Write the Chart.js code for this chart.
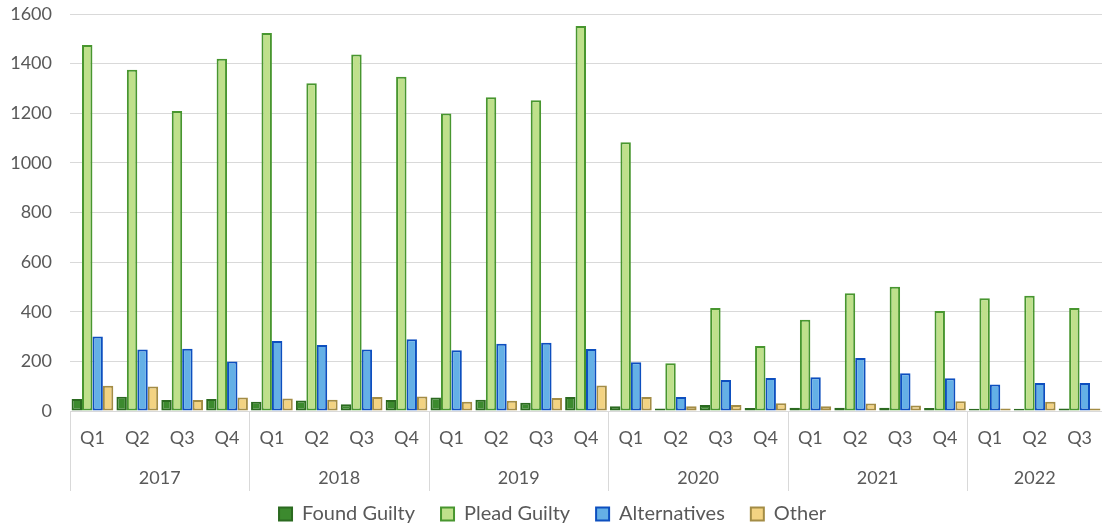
<!DOCTYPE html>
<html lang="en">
<head>
<meta charset="UTF-8">
<title>Court outcomes by quarter</title>
<script src="https://cdn.jsdelivr.net/npm/chart.js"></script>
<style>
    html, body {
        margin: 0;
        padding: 0;
        background: #ffffff;
    }
    #wrap {
        width: 1102px;
        height: 529px;
    }
</style>
</head>
<body>
<div id="wrap"><canvas id="outcomeChart"></canvas></div>
<script>
// quarter labels and the year each run of quarters belongs to
var quarterLabels = ['Q1', 'Q2', 'Q3', 'Q4', 'Q1', 'Q2', 'Q3', 'Q4', 'Q1', 'Q2', 'Q3', 'Q4',
                     'Q1', 'Q2', 'Q3', 'Q4', 'Q1', 'Q2', 'Q3', 'Q4', 'Q1', 'Q2', 'Q3'];
var years = ['2017', '2018', '2019', '2020', '2021', '2022'];
var quartersPerYear = [4, 4, 4, 4, 4, 3];

var foundGuilty = [48, 57, 44, 48, 37, 42, 27, 44, 54, 45, 33, 56,
                   19, 10, 24, 12, 13, 13, 13, 12, 9, 9, 10];
var pleadGuilty = [1475, 1375, 1209, 1420, 1523, 1321, 1437, 1347, 1199, 1264, 1252, 1552,
                   1083, 192, 415, 262, 368, 475, 501, 403, 454, 464, 415];
var alternatives = [300, 248, 251, 200, 282, 266, 248, 289, 245, 271, 275, 250,
                    196, 56, 125, 133, 136, 214, 152, 132, 107, 113, 113];
var other = [102, 99, 44, 54, 50, 45, 56, 58, 37, 41, 52, 103,
             56, 19, 24, 31, 19, 30, 22, 39, 10, 37, 10];

var FONT = 'Lato';
var TEXT = '#595959';
var GRID = '#d9d9d9';

// second row of the x axis: year names under each group plus the divider lines
var yearGroups = {
    id: 'yearGroups',
    afterDraw: function (chart) {
        var xs = chart.scales.x;
        var ctx = chart.ctx;
        var step = xs.getPixelForValue(1) - xs.getPixelForValue(0);
        var start = 0;

        ctx.save();
        ctx.strokeStyle = GRID;
        ctx.lineWidth = 1;
        ctx.fillStyle = TEXT;
        ctx.font = '18px ' + FONT;
        ctx.textAlign = 'center';
        ctx.textBaseline = 'middle';

        for (var i = 0; i < years.length; i++) {
            var left = xs.getPixelForValue(start) - step / 2;
            var right = xs.getPixelForValue(start + quartersPerYear[i] - 1) + step / 2;
            var lx = Math.round(left) + 0.5;
            ctx.beginPath();
            ctx.moveTo(lx, xs.top);
            ctx.lineTo(lx, xs.top + 80);
            ctx.stroke();
            ctx.fillText(years[i], (left + right) / 2, xs.top + 67);
            start += quartersPerYear[i];
        }
        ctx.restore();
    }
};

var outcomeData = {
    labels: quarterLabels,
    datasets: [{
        label: 'Found Guilty',
        data: foundGuilty,
        backgroundColor: '#3c8a2e',
        borderColor: '#2b6a20'
    }, {
        label: 'Plead Guilty',
        data: pleadGuilty,
        backgroundColor: '#bfe08b',
        borderColor: '#48962f'
    }, {
        label: 'Alternatives',
        data: alternatives,
        backgroundColor: '#64b0e6',
        borderColor: '#0d4fbf'
    }, {
        label: 'Other',
        data: other,
        backgroundColor: '#f3d382',
        borderColor: '#a38c45'
    }]
};

outcomeData.datasets.forEach(function (ds) {
    ds.borderWidth = 2;
    ds.borderSkipped = false;
    ds.barPercentage = 1.0;
    ds.categoryPercentage = 0.93;
});

var ctx = document.getElementById('outcomeChart').getContext('2d');
var outcomeChart = new Chart(ctx, {
    type: 'bar',
    data: outcomeData,
    plugins: [yearGroups],
    options: {
        responsive: true,
        maintainAspectRatio: false,
        animation: false,
        layout: {
            padding: { top: 14, right: -3, left: 0, bottom: -5 }
        },
        plugins: {
            legend: {
                position: 'bottom',
                labels: {
                    color: TEXT,
                    font: { family: FONT, size: 20 },
                    boxWidth: 13,
                    boxHeight: 13,
                    padding: 26
                }
            },
            tooltip: { enabled: false }
        },
        scales: {
            x: {
                grid: { display: false, drawTicks: false },
                border: { display: true, color: GRID, width: 1 },
                ticks: {
                    color: TEXT,
                    font: { family: FONT, size: 18 },
                    padding: 16,
                    maxRotation: 0,
                    autoSkip: false
                },
                afterFit: function (scale) {
                    scale.height = 67;
                    scale.paddingLeft = 0;
                    scale.paddingRight = 0;
                }
            },
            y: {
                min: 0,
                max: 1600,
                grid: { color: GRID, drawTicks: false },
                border: { display: false },
                ticks: {
                    stepSize: 200,
                    color: TEXT,
                    font: { family: FONT, size: 18 },
                    padding: 18,
                    callback: function (value) {
                        return String(value);
                    }
                },
                afterFit: function (scale) {
                    scale.width = 70;
                    scale.paddingTop = 0;
                    scale.paddingBottom = 0;
                }
            }
        }
    }
});
</script>
</body>
</html>
